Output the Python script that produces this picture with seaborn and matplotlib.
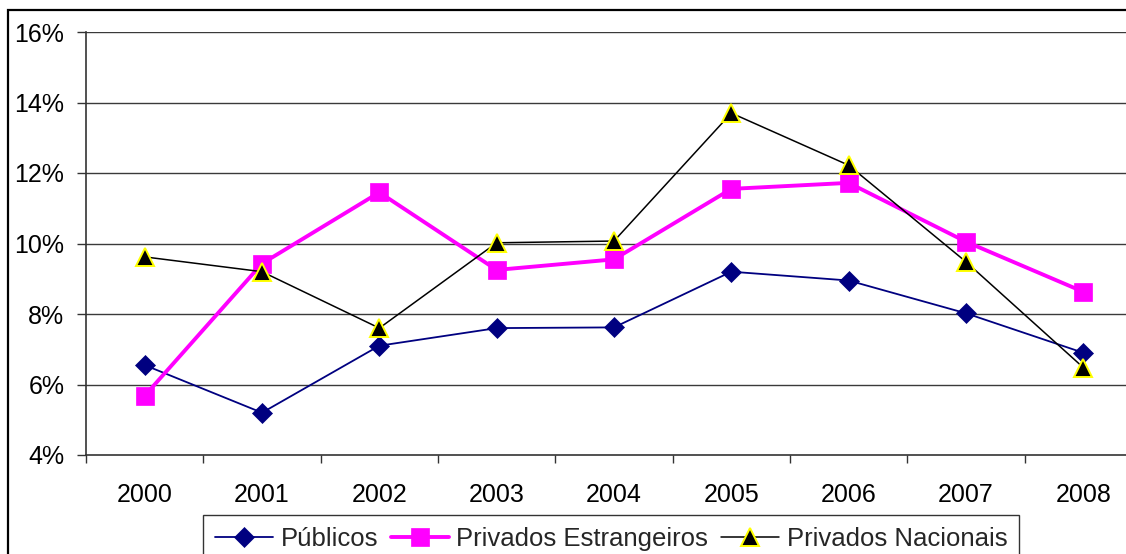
import matplotlib
matplotlib.use("Agg")
import matplotlib.pyplot as plt
import matplotlib.ticker as mticker
from matplotlib.patches import Rectangle
import numpy as np
import pandas as pd
import seaborn as sns

# Annual rates (%) by bank ownership group
years = ["2000", "2001", "2002", "2003", "2004", "2005", "2006", "2007", "2008"]
publicos = [6.55, 5.2, 7.1, 7.6, 7.62, 9.2, 8.95, 8.02, 6.9]
estrangeiros = [5.68, 9.43, 11.45, 9.25, 9.55, 11.55, 11.72, 10.05, 8.63]
nacionais = [9.62, 9.2, 7.6, 10.02, 10.07, 13.7, 12.22, 9.48, 6.48]
series_names = ["Públicos", "Privados Estrangeiros", "Privados Nacionais"]

df = pd.DataFrame({
    "pos": np.tile(np.arange(len(years)), 3),
    "valor": publicos + estrangeiros + nacionais,
    "grupo": np.repeat(series_names, len(years)),
})

sns.set_theme(style="white")
plt.rcParams["font.family"] = ["Liberation Sans", "DejaVu Sans"]

W, H = 1126, 554
fig = plt.figure(figsize=(W / 100, H / 100), dpi=100)
fig.patch.set_facecolor("white")

# outer chart frame
fig.add_artist(Rectangle((8 / W, -0.2), 1.2, 1 - 10 / H + 0.2,
                         transform=fig.transFigure, fill=False,
                         edgecolor="black", linewidth=1.6, zorder=0))

left, right, top, bottom = 86, 1142, 32, 455
ax = fig.add_axes([left / W, 1 - bottom / H, (right - left) / W, (bottom - top) / H])
ax.set_facecolor("white")

styles = {
    "Públicos": dict(color="#000080", marker="D", markersize=10.5, linewidth=1.3,
                     markeredgecolor="#000080", markeredgewidth=0.5),
    "Privados Estrangeiros": dict(color="#FF00FF", marker="s", markersize=13.5, linewidth=2.8,
                                  markeredgecolor="#FF00FF", markeredgewidth=0.5),
    "Privados Nacionais": dict(color="black", marker="^", markersize=13, linewidth=1.1,
                               markeredgecolor="#FFFF00", markeredgewidth=1.4),
}

for name in series_names:
    sub = df[df["grupo"] == name]
    sns.lineplot(data=sub, x="pos", y="valor", ax=ax, label=name, zorder=3,
                 **styles[name])

ax.set_xlim(-0.5, len(years) - 0.5)
ax.set_ylim(4, 16)
ax.set_xlabel("")
ax.set_ylabel("")

# horizontal gridlines
for yv in range(6, 17, 2):
    ax.axhline(yv, color="#3a3a3a", linewidth=1.0, zorder=1)

ax.yaxis.set_major_locator(mticker.MultipleLocator(2))
ax.yaxis.set_major_formatter(mticker.FuncFormatter(lambda v, p: f"{v:.0f}%"))

# category ticks between years, labels centred on years
ax.xaxis.set_major_locator(mticker.FixedLocator(np.arange(-0.5, len(years), 1.0)))
ax.xaxis.set_major_formatter(mticker.NullFormatter())
ax.xaxis.set_minor_locator(mticker.FixedLocator(np.arange(len(years))))
ax.xaxis.set_minor_formatter(mticker.FixedFormatter(years))

ax.tick_params(axis="y", which="major", direction="out", length=6.5, width=1,
               color="#333333", labelsize=18, pad=9, left=True, labelcolor="black")
ax.tick_params(axis="x", which="major", direction="out", length=6, width=1,
               color="#333333", bottom=True)
ax.tick_params(axis="x", which="minor", length=0, labelsize=18, pad=20, labelcolor="black")

for s in ["top", "right"]:
    ax.spines[s].set_visible(False)
for s in ["left", "bottom"]:
    ax.spines[s].set_color("#333333")
    ax.spines[s].set_linewidth(1.2)

leg = ax.legend(loc="upper center", bbox_to_anchor=(611 / W, 1 - 515 / H),
                bbox_transform=fig.transFigure, ncol=3, frameon=True, fancybox=False,
                edgecolor="black", fontsize=18.5, handlelength=2.25, handletextpad=0.3,
                columnspacing=0.5, borderpad=0.45, borderaxespad=0)
leg.get_frame().set_linewidth(1.0)

fig.savefig("out.png", dpi=100)
